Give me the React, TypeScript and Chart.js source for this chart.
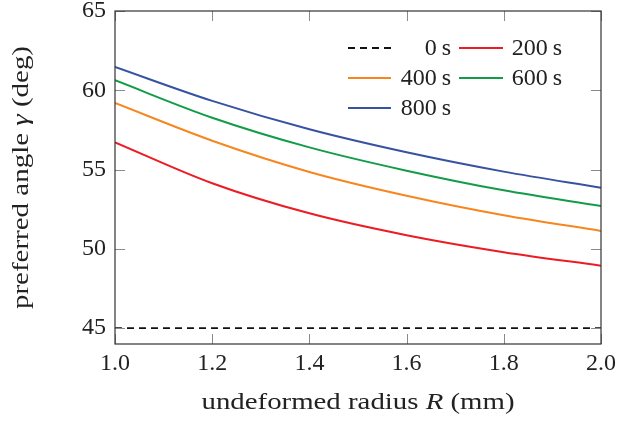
import { useEffect, useRef } from "react";
import { Chart, registerables } from "chart.js";

Chart.register(...registerables);

const radius = [1.0, 1.2, 1.4, 1.6, 1.8, 2.0];
const angle0s = [45, 45, 45, 45, 45, 45];
const angle200s = [56.72, 54.14, 52.24, 50.86, 49.79, 48.94];
const angle400s = [59.2, 56.82, 54.85, 53.35, 52.12, 51.13];
const angle600s = [60.63, 58.27, 56.4, 54.93, 53.69, 52.7];
const angle800s = [61.47, 59.33, 57.54, 56.09, 54.87, 53.86];
const seriesLabels = ["0\u2009s", "200\u2009s", "400\u2009s", "600\u2009s", "800\u2009s"];
const xTickValues = [1.0, 1.2, 1.4, 1.6, 1.8, 2.0];
const yTickValues = [45, 50, 55, 60, 65];

const FONT = "'Liberation Serif', 'Times New Roman', serif";
const FS = 24;

const toPoints = (ys: number[]) => radius.map((x, i) => ({ x, y: ys[i] }));

const framePlugin = {
  id: "frame",
  afterDatasetsDraw(chart: any) {
    const { ctx, chartArea: a, scales } = chart;
    ctx.save();
    // inward ticks
    ctx.strokeStyle = "#8a8a8a";
    ctx.lineWidth = 1;
    const tl = 10;
    xTickValues.forEach((v) => {
      const px = Math.round(scales.x.getPixelForValue(v)) + 0.5;
      ctx.beginPath();
      ctx.moveTo(px, a.bottom);
      ctx.lineTo(px, a.bottom - tl);
      ctx.moveTo(px, a.top);
      ctx.lineTo(px, a.top + tl);
      ctx.stroke();
    });
    yTickValues.forEach((v) => {
      const py = Math.round(scales.y.getPixelForValue(v)) + 0.5;
      ctx.beginPath();
      ctx.moveTo(a.left, py);
      ctx.lineTo(a.left + tl, py);
      ctx.moveTo(a.right, py);
      ctx.lineTo(a.right - tl, py);
      ctx.stroke();
    });
    // frame
    ctx.strokeStyle = "#333333";
    ctx.lineWidth = 1.2;
    ctx.strokeRect(a.left, a.top, a.right - a.left, a.bottom - a.top);

    // legend
    const ds = chart.data.datasets;
    const rows = [48, 78, 108];
    const cols = [
      { x0: 348, x1: 391, tx: 451 },
      { x0: 459, x1: 503, tx: 562 },
    ];
    ctx.font = `${FS}px ${FONT}`;
    ctx.textBaseline = "middle";
    ctx.textAlign = "right";
    ds.forEach((d: any, i: number) => {
      const c = cols[i % 2];
      const y = rows[Math.floor(i / 2)];
      ctx.strokeStyle = d.borderColor;
      ctx.lineWidth = d.borderWidth;
      ctx.setLineDash(d.borderDash || []);
      ctx.beginPath();
      ctx.moveTo(c.x0, y);
      ctx.lineTo(c.x1, y);
      ctx.stroke();
      ctx.setLineDash([]);
      ctx.fillStyle = "#222222";
      ctx.fillText(d.label, c.tx, y + 1);
    });

    // axis titles with italic math symbols
    const drawParts = (
      parts: { t: string; it?: boolean }[],
      cx: number,
      cy: number,
      rot: number,
      target: number
    ) => {
      ctx.save();
      ctx.translate(cx, cy);
      ctx.rotate(rot);
      ctx.textAlign = "left";
      ctx.textBaseline = "middle";
      ctx.fillStyle = "#222222";
      const widths = parts.map((p) => {
        ctx.font = `${p.it ? "italic " : ""}${FS}px ${FONT}`;
        return ctx.measureText(p.t).width;
      });
      const total = widths.reduce((s, w) => s + w, 0);
      ctx.scale(target / total, 1);
      let x = -total / 2;
      parts.forEach((p, i) => {
        ctx.font = `${p.it ? "italic " : ""}${FS}px ${FONT}`;
        ctx.fillText(p.t, x, 0);
        x += widths[i];
      });
      ctx.restore();
    };
    const midX = (a.left + a.right) / 2;
    const midY = (a.top + a.bottom) / 2;
    drawParts([{ t: "undeformed radius " }, { t: "R", it: true }, { t: " (mm)" }], midX, 403, 0, 313);
    drawParts([{ t: "preferred angle " }, { t: "\u03b3", it: true }, { t: " (deg)" }], 22, midY, -Math.PI / 2, 263);
    ctx.restore();
  },
};

export default function App() {
  const ref = useRef<HTMLCanvasElement | null>(null);
  useEffect(() => {
    if (!ref.current) return;
    const chart = new Chart(ref.current, {
      type: "line",
      data: {
        datasets: [
          { label: seriesLabels[0], data: toPoints(angle0s), borderColor: "#111111", borderWidth: 1.8, borderDash: [7, 5] },
          { label: seriesLabels[1], data: toPoints(angle200s), borderColor: "#ec1c24", borderWidth: 2 },
          { label: seriesLabels[2], data: toPoints(angle400s), borderColor: "#f7861f", borderWidth: 2 },
          { label: seriesLabels[3], data: toPoints(angle600s), borderColor: "#129c48", borderWidth: 2 },
          { label: seriesLabels[4], data: toPoints(angle800s), borderColor: "#3552a3", borderWidth: 2 },
        ] as any,
      },
      options: {
        animation: false,
        responsive: false,
        maintainAspectRatio: false,
        layout: { padding: { left: 0, top: 11, right: 18, bottom: 0 } },
        elements: { point: { radius: 0 }, line: { cubicInterpolationMode: "monotone" } },
        plugins: { legend: { display: false }, tooltip: { enabled: false } },
        scales: {
          x: {
            type: "linear",
            min: 1,
            max: 2,
            grid: { display: false, drawTicks: false },
            border: { display: false },
            afterBuildTicks: (s: any) => {
              s.ticks = xTickValues.map((v) => ({ value: v }));
            },
            afterFit: (s: any) => {
              s.height = 77;
              s.paddingLeft = 0;
              s.paddingRight = 0;
            },
            ticks: {
              padding: 5,
              color: "#222222",
              font: { family: FONT, size: FS },
              callback: (v: any) => Number(v).toFixed(1),
            },
          },
          y: {
            type: "linear",
            min: 44,
            max: 65,
            grid: { display: false, drawTicks: false },
            border: { display: false },
            afterBuildTicks: (s: any) => {
              s.ticks = yTickValues.map((v) => ({ value: v }));
            },
            afterFit: (s: any) => {
              s.width = 115;
              s.paddingTop = 0;
              s.paddingBottom = 0;
            },
            ticks: {
              padding: 9,
              color: "#222222",
              font: { family: FONT, size: FS },
              callback: (v: any) => String(v),
            },
          },
        },
      } as any,
      plugins: [framePlugin],
    });
    return () => chart.destroy();
  }, []);
  return (
    <div style={{ position: "fixed", left: 0, top: 0, width: 619, height: 421, background: "#fff" }}>
      <canvas ref={ref} width={619} height={421} style={{ width: 619, height: 421, display: "block" }} />
    </div>
  );
}
